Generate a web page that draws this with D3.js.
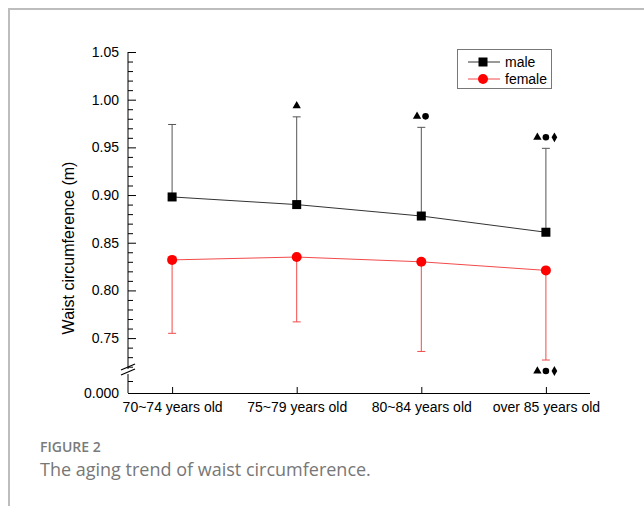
<!DOCTYPE html>
<html>
<head>
<meta charset="utf-8">
<script src="https://cdn.jsdelivr.net/npm/d3@7/dist/d3.min.js"></script>
<style>
  html, body { margin: 0; padding: 0; background: #fff; }
  svg { display: block; }
</style>
</head>
<body>
<svg id="chart" width="644" height="506"></svg>
<script>
// Age groups and waist circumference (m): mean and one-sided SD bars
const categories = ["70~74 years old", "75~79 years old", "80~84 years old", "over 85 years old"];
const maleMean   = [0.898, 0.890, 0.878, 0.861];
const maleSD     = [0.076, 0.092, 0.093, 0.088];
const femaleMean = [0.832, 0.835, 0.830, 0.821];
const femaleSD   = [0.077, 0.068, 0.094, 0.094];
// significance marks above male bars / below female bars
const maleMarks   = [[], ["triangle"], ["triangle", "circle"], ["triangle", "circle", "diamond"]];
const femaleMarks = [[], [], [], ["triangle", "circle", "diamond"]];
const yMajorTicks = [0.75, 0.80, 0.85, 0.90, 0.95, 1.00, 1.05];
const yLowerTicks = [0.0];
const seriesNames = ["male", "female"];

const svg = d3.select("#chart");
const font = "'Liberation Sans', Arial, sans-serif";

// figure frame
svg.append("path")
  .attr("d", "M9,506 V9 H644")
  .attr("fill", "none").attr("stroke", "#bdbdbd").attr("stroke-width", 2);

const x0 = 128, x1 = 590, yBase = 393;
const x = d3.scalePoint().domain(categories).range([x0, x1]).padding(0.354);
const y = d3.scaleLinear().domain([0.72, 1.05]).range([366.7, 52]);
const yLow = d3.scaleLinear().domain([0, 0.02]).range([yBase, 369]);

const g = svg.append("g");

// y axis, main segment
const yAxisMain = d3.axisLeft(y).tickValues(yMajorTicks).tickSize(-8).tickPadding(9)
  .tickFormat(d3.format(".2f"));
const yMinor = d3.range(72, 106).map(v => v / 100).filter(v => !yMajorTicks.some(t => Math.abs(t - v) < 1e-9));
const yAxisG = g.append("g").attr("transform", `translate(${x0},0)`).call(yAxisMain);
yAxisG.select(".domain").remove();
g.append("g").attr("transform", `translate(${x0},0)`)
  .call(d3.axisLeft(y).tickValues(yMinor).tickSize(-5).tickFormat(""))
  .select(".domain").remove();
g.append("line").attr("x1", x0).attr("x2", x0).attr("y1", y(1.05)).attr("y2", 369)
  .attr("stroke", "#000");

// y axis, lower segment below the break
const yLowG = g.append("g").attr("transform", `translate(${x0},0)`)
  .call(d3.axisLeft(yLow).tickValues(yLowerTicks).tickSize(-8).tickPadding(9).tickFormat(d3.format(".3f")));
yLowG.select(".domain").remove();
g.append("g").attr("transform", `translate(${x0},0)`)
  .call(d3.axisLeft(yLow).tickValues([0.01]).tickSize(-5).tickFormat(""))
  .select(".domain").remove();
g.append("line").attr("x1", x0).attr("x2", x0).attr("y1", 374).attr("y2", yBase)
  .attr("stroke", "#000");

// break marks
g.selectAll(".brk").data([0, 5]).enter().append("line")
  .attr("x1", x0 - 7).attr("y1", d => 370 + d)
  .attr("x2", x0 + 7).attr("y2", d => 364 + d)
  .attr("stroke", "#000").attr("stroke-width", 1.2);

// x axis
const xAxisG = g.append("g").attr("transform", `translate(0,${yBase})`)
  .call(d3.axisBottom(x).tickSize(-6).tickPadding(9).tickSizeOuter(0));
xAxisG.select(".domain").attr("d", `M${x0},0.5H${x1}`);

[yAxisG, yLowG, xAxisG].forEach(a => a.selectAll("text")
  .attr("font-family", font).attr("font-size", 14).attr("fill", "#000"));
g.selectAll(".tick line").attr("stroke", "#000");

// y axis title
svg.append("text")
  .attr("transform", `translate(74,248) rotate(-90)`)
  .attr("text-anchor", "middle")
  .attr("font-family", font).attr("font-size", 16)
  .text("Waist circumference (m)");

const idx = d3.range(categories.length);
const maleColor = "#000", femaleColor = "#ff0000";

// error bars
const capW = 4;
idx.forEach(i => {
  const cx = x(categories[i]);
  const top = y(maleMean[i] + maleSD[i]);
  g.append("line").attr("x1", cx).attr("x2", cx).attr("y1", y(maleMean[i])).attr("y2", top)
    .attr("stroke", "#555");
  g.append("line").attr("x1", cx - capW).attr("x2", cx + capW).attr("y1", top).attr("y2", top)
    .attr("stroke", "#555");
  const bot = y(femaleMean[i] - femaleSD[i]);
  g.append("line").attr("x1", cx).attr("x2", cx).attr("y1", y(femaleMean[i])).attr("y2", bot)
    .attr("stroke", "#f24a4a");
  g.append("line").attr("x1", cx - capW).attr("x2", cx + capW).attr("y1", bot).attr("y2", bot)
    .attr("stroke", "#f24a4a");
});

// series lines
const line = arr => d3.line().x((d, i) => x(categories[i])).y(d => y(d))(arr);
g.append("path").attr("d", line(maleMean)).attr("fill", "none").attr("stroke", "#333").attr("stroke-width", 1);
g.append("path").attr("d", line(femaleMean)).attr("fill", "none").attr("stroke", "#f24a4a").attr("stroke-width", 1);

// markers
g.selectAll(".mm").data(maleMean).enter().append("rect")
  .attr("x", (d, i) => x(categories[i]) - 4.5).attr("y", d => y(d) - 4.5)
  .attr("width", 9).attr("height", 9).attr("fill", maleColor);
g.selectAll(".fm").data(femaleMean).enter().append("circle")
  .attr("cx", (d, i) => x(categories[i])).attr("cy", d => y(d)).attr("r", 5)
  .attr("fill", femaleColor);

// significance symbols
const symType = { triangle: d3.symbolTriangle, circle: d3.symbolCircle, diamond: d3.symbolDiamond };
const symSize = { triangle: 30, circle: 34, diamond: 28 };
function drawMarks(list, cx, cy) {
  const n = list.length, sp = 8.5;
  list.forEach((s, k) => {
    g.append("path")
      .attr("d", d3.symbol().type(symType[s]).size(symSize[s])())
      .attr("transform", `translate(${cx + (k - (n - 1) / 2) * sp},${cy})`)
      .attr("fill", "#000");
  });
}
idx.forEach(i => {
  const cx = x(categories[i]);
  drawMarks(maleMarks[i], cx, y(maleMean[i] + maleSD[i]) - 11);
  drawMarks(femaleMarks[i], cx, y(femaleMean[i] - femaleSD[i]) + 11);
});

// legend
const lg = svg.append("g").attr("transform", "translate(457,49)");
lg.append("rect").attr("x", 0.5).attr("y", 0.5).attr("width", 94).attr("height", 39)
  .attr("fill", "#fff").attr("stroke", "#777");
seriesNames.forEach((name, k) => {
  const ly = 13 + k * 17;
  lg.append("line").attr("x1", 11).attr("x2", 43).attr("y1", ly).attr("y2", ly)
    .attr("stroke", k === 0 ? "#333" : "#f24a4a");
  if (k === 0) {
    lg.append("rect").attr("x", 26 - 4.5).attr("y", ly - 4.5).attr("width", 9).attr("height", 9).attr("fill", maleColor);
  } else {
    lg.append("circle").attr("cx", 26).attr("cy", ly).attr("r", 5).attr("fill", femaleColor);
  }
  lg.append("text").attr("x", 48).attr("y", ly).attr("dy", "0.35em")
    .attr("font-family", font).attr("font-size", 14).text(name);
});

// caption
const capFont = "'Open Sans', 'Noto Sans', sans-serif";
svg.append("text").attr("x", 40).attr("y", 452)
  .attr("font-family", capFont).attr("font-size", 14).attr("font-weight", 600)
  .attr("fill", "#7a7a7a").text("FIGURE 2");
svg.append("text").attr("x", 40).attr("y", 476)
  .attr("font-family", capFont).attr("font-size", 18)
  .attr("fill", "#777").text("The aging trend of waist circumference.");
</script>
</body>
</html>
